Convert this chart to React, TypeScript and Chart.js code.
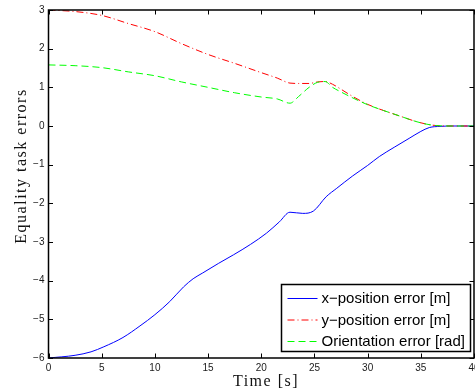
import React, { useEffect, useRef } from "react";
import { Chart, registerables } from "chart.js";

Chart.register(...registerables);

// ---- data ----
const xErrTime = [0, 2.5, 4, 5.2, 7, 8.6, 10, 11.4, 12.7, 13.6, 14.5, 16, 17.4, 19, 20.5, 21.7, 22.7, 23.9, 24.9, 26.1, 27.1, 28.6, 30, 31.1, 32.5, 33.9, 35, 35.8, 36.8, 38, 40];
const xPositionError = [-6, -5.93, -5.84, -5.71, -5.47, -5.17, -4.88, -4.54, -4.16, -3.95, -3.80, -3.55, -3.33, -3.06, -2.77, -2.48, -2.23, -2.26, -2.20, -1.83, -1.61, -1.29, -1.02, -0.79, -0.55, -0.32, -0.14, -0.04, -0.01, 0, 0];

const yoErrTime = [0, 2.5, 5, 7.5, 10, 12.5, 15, 17.5, 20, 21.5, 22.7, 23.5, 24.5, 25.3, 26, 26.7, 27.5, 28.5, 30, 31.5, 33, 34.5, 35.5, 36.5, 38, 40];
const yPositionError = [3.0, 2.96, 2.86, 2.65, 2.44, 2.13, 1.85, 1.62, 1.38, 1.24, 1.11, 1.10, 1.10, 1.14, 1.15, 1.08, 0.95, 0.78, 0.56, 0.40, 0.26, 0.12, 0.05, 0.01, 0, 0];
const orientationError = [1.58, 1.56, 1.51, 1.40, 1.30, 1.14, 1.0, 0.86, 0.75, 0.70, 0.59, 0.76, 1.0, 1.13, 1.15, 1.0, 0.88, 0.74, 0.55, 0.40, 0.26, 0.12, 0.05, 0.01, 0, 0];

const seriesLabels = ["x\u2212position error [m]", "y\u2212position error [m]", "Orientation error [rad]"];
const seriesColors = ["#0000ff", "#ff0000", "#00ff00"];
const seriesDashes: number[][] = [[], [7, 3, 1, 3], [7, 4]];

const xTitle = "Time [s]";
const yTitle = "Equality task errors";
const xMin = 0, xMax = 40, xStep = 5;
const yMin = -6, yMax = 3, yStep = 1;

const serif = "'Liberation Serif', 'DejaVu Serif', serif";
const sans = "'Liberation Sans', Arial, sans-serif";

const framePlugin = {
  id: "matlabFrame",
  afterDraw(chart: any) {
    const { ctx, chartArea: a, scales } = chart;
    ctx.save();
    // inward ticks
    ctx.strokeStyle = "#000";
    ctx.lineWidth = 1;
    const tl = 4.5;
    ctx.beginPath();
    scales.x.ticks.forEach((t: any) => {
      const px = Math.round(scales.x.getPixelForValue(t.value)) + 0.5;
      ctx.moveTo(px, a.bottom); ctx.lineTo(px, a.bottom - tl);
      ctx.moveTo(px, a.top); ctx.lineTo(px, a.top + tl);
    });
    scales.y.ticks.forEach((t: any) => {
      const py = Math.round(scales.y.getPixelForValue(t.value)) + 0.5;
      ctx.moveTo(a.left, py); ctx.lineTo(a.left + tl, py);
      ctx.moveTo(a.right, py); ctx.lineTo(a.right - tl, py);
    });
    ctx.stroke();
    // frame
    ctx.lineWidth = 1.5;
    ctx.strokeRect(a.left, a.top, a.right - a.left, a.bottom - a.top);

    // axis titles
    ctx.fillStyle = "#111";
    ctx.font = `16px ${serif}`;
    (ctx as any).letterSpacing = "1.5px";
    ctx.textAlign = "center";
    ctx.textBaseline = "middle";
    ctx.fillText(xTitle, 266, 382);
    ctx.save();
    ctx.translate(22, 166);
    ctx.rotate(-Math.PI / 2);
    ctx.fillText(yTitle, 0, 0);
    ctx.restore();
    (ctx as any).letterSpacing = "0px";

    // legend
    const bw = 189, bh = 67;
    const bx = a.right - 3.5 - bw;
    const by = a.bottom - 6.5 - bh;
    ctx.fillStyle = "#fff";
    ctx.fillRect(bx, by, bw, bh);
    ctx.strokeStyle = "#000";
    ctx.lineWidth = 1.5;
    ctx.strokeRect(bx, by, bw, bh);
    ctx.font = `15px ${sans}`;
    ctx.textAlign = "left";
    ctx.textBaseline = "middle";
    seriesLabels.forEach((lab, i) => {
      const cy = by + 13.5 + i * 21.5;
      ctx.strokeStyle = seriesColors[i];
      ctx.lineWidth = 1;
      ctx.setLineDash(seriesDashes[i]);
      ctx.beginPath();
      ctx.moveTo(bx + 6, cy + 0.5);
      ctx.lineTo(bx + 36, cy + 0.5);
      ctx.stroke();
      ctx.setLineDash([]);
      ctx.fillStyle = "#000";
      ctx.fillText(lab, bx + 40, cy + 1);
    });
    ctx.restore();
  },
};

export default function App() {
  const ref = useRef<HTMLCanvasElement | null>(null);
  useEffect(() => {
    document.body.style.margin = "0";
    document.body.style.overflow = "hidden";
    const canvas = ref.current!;
    const series = [
      { t: xErrTime, v: xPositionError },
      { t: yoErrTime, v: yPositionError },
      { t: yoErrTime, v: orientationError },
    ];
    const chart = new Chart(canvas, {
      type: "line",
      data: {
        datasets: series.map((s, i) => ({
          label: seriesLabels[i],
          data: s.t.map((t, k) => ({ x: t, y: s.v[k] })),
          borderColor: seriesColors[i],
          borderWidth: 1,
          borderDash: seriesDashes[i],
          pointRadius: 0,
          fill: false,
          cubicInterpolationMode: "monotone" as const,
          order: 2 - i,
        })),
      },
      options: {
        animation: false,
        responsive: false,
        maintainAspectRatio: false,
        devicePixelRatio: 1,
        layout: { padding: { left: 0, top: 10, right: 26, bottom: 0 } },
        plugins: { legend: { display: false }, tooltip: { enabled: false }, title: { display: false } },
        scales: {
          x: {
            type: "linear",
            min: xMin,
            max: xMax,
            grid: { display: false, drawTicks: false },
            border: { display: false },
            ticks: {
              stepSize: xStep,
              padding: 4,
              maxRotation: 0,
              color: "#1a1a1a",
              font: { family: sans, size: 10 },
            },
            afterFit: (s: any) => { s.height = 33; },
          },
          y: {
            type: "linear",
            min: yMin,
            max: yMax,
            grid: { display: false, drawTicks: false },
            border: { display: false },
            ticks: {
              stepSize: yStep,
              padding: 4,
              color: "#1a1a1a",
              font: { family: sans, size: 10 },
              callback: (v: any) => String(v).replace("-", "\u2212"),
            },
            afterFit: (s: any) => { s.width = 48.5; },
          },
        },
      },
      plugins: [framePlugin],
    });
    return () => chart.destroy();
  }, []);
  return (
    <div style={{ position: "fixed", left: 0, top: 0, width: 475, height: 391, overflow: "hidden", background: "#fff" }}>
      <canvas ref={ref} width={500} height={391} style={{ width: 500, height: 391, display: "block" }} />
    </div>
  );
}
